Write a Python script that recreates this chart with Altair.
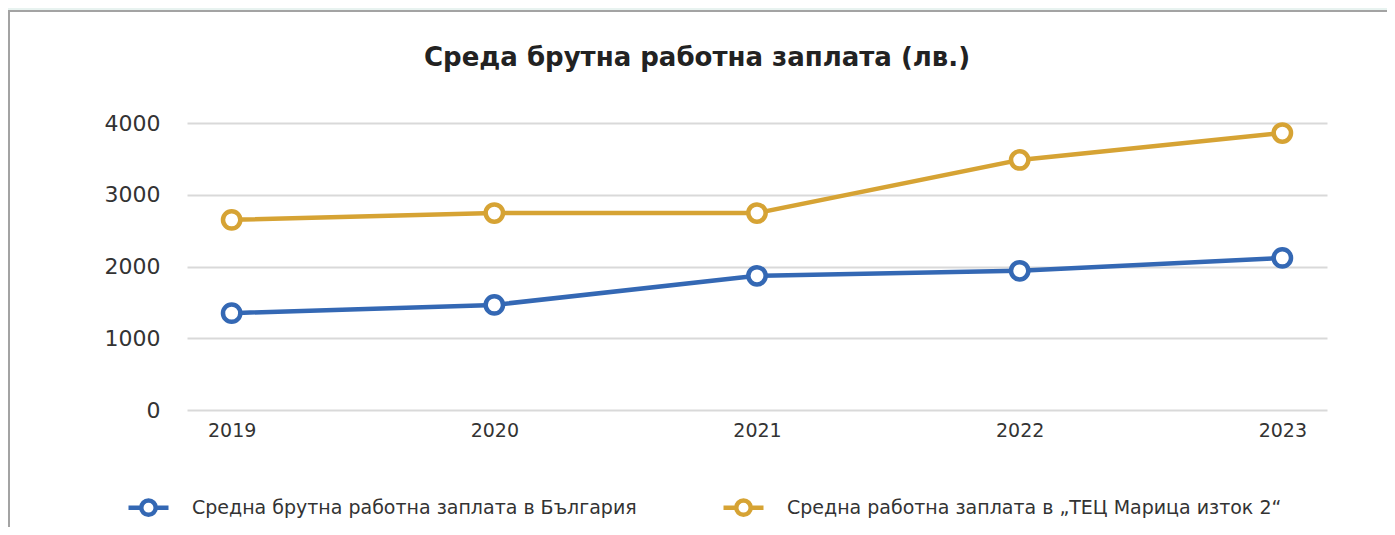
import altair as alt
import pandas as pd

years = ["2019", "2020", "2021", "2022", "2023"]
series_names = [
    "Средна брутна работна заплата в България",
    "Средна работна заплата в „ТЕЦ Марица изток 2“",
]
bulgaria = [1350, 1465, 1870, 1940, 2120]
tec = [2650, 2745, 2745, 3485, 3860]
colors = ["#3468b4", "#d6a334"]
title_text = "Среда брутна работна заплата (лв.)"
y_ticks = [0, 1000, 2000, 3000, 4000]

rows = []
for name, vals in zip(series_names, [bulgaria, tec]):
    for y, v in zip(years, vals):
        rows.append({"year": y, "value": v, "series": name})
df = pd.DataFrame(rows)

FONT = "DejaVu Sans"
TXT = "#333333"

legend_path = ("M-1,0L-0.36,0M0.36,0L1,0"
               "M0.36,0A0.36,0.36,0,1,1,-0.36,0A0.36,0.36,0,1,1,0.36,0Z")

color = alt.Color(
    "series:N",
    scale=alt.Scale(domain=series_names, range=colors),
    sort=series_names,
    legend=alt.Legend(
        title=None,
        orient="none",
        direction="horizontal",
        legendX=-61,
        legendY=362,
        padding=0,
        symbolType=legend_path,
        symbolSize=1600,
        symbolStrokeWidth=4.5,
        symbolFillColor="white",
        labelFont=FONT,
        labelFontSize=19,
        labelColor=TXT,
        labelOffset=21,
        labelLimit=800,
        columnPadding=77,
    ),
)

x = alt.X(
    "year:O",
    sort=years,
    scale=alt.Scale(type="point", padding=0.17),
    axis=alt.Axis(title=None, labelAngle=0, domain=False, ticks=False, grid=False,
                  labelPadding=11, labelFont=FONT, labelFontSize=19, labelColor=TXT),
)
y = alt.Y(
    "value:Q",
    scale=alt.Scale(domain=[0, 4000], nice=False),
    axis=alt.Axis(title=None, values=y_ticks, format="d", domain=False, ticks=False,
                  grid=True, gridColor="#d9d9d9", gridWidth=2, labelPadding=27,
                  labelFont=FONT, labelFontSize=22, labelColor=TXT),
)

base = alt.Chart(df)
lines = base.mark_line(strokeWidth=4.5).encode(x=x, y=y, color=color)
points = base.mark_point(filled=False, fill="white", fillOpacity=1, size=300,
                         strokeWidth=4.5, opacity=1).encode(x=x, y=y, color=color)

one = alt.Data(values=[{"t": title_text}])
strip = alt.Chart(one).mark_rect(color="#e8f3f0").encode(
    x=alt.value(-179), x2=alt.value(1200), y=alt.value(-115), y2=alt.value(-113))
topline = alt.Chart(one).mark_rule(color="#a3a3a3", strokeWidth=2).encode(
    x=alt.value(-179), x2=alt.value(1200), y=alt.value(-112))
leftline = alt.Chart(one).mark_rule(color="#a3a3a3", strokeWidth=2).encode(
    x=alt.value(-178), y=alt.value(-113), y2=alt.value(404))
title = alt.Chart(one).mark_text(
    font=FONT, fontSize=26, fontWeight="bold", color="#222222",
    align="center", baseline="alphabetic",
).encode(text="t:N", x=alt.value(510), y=alt.value(-57))

chart = alt.layer(strip, topline, leftline, title, lines, points).properties(
    width=1140,
    height=287,
    padding={"left": 179, "top": 115, "right": 60, "bottom": 117},
    autosize=alt.AutoSizeParams(type="none"),
    background="white",
).configure_view(stroke=None)

chart.save("out.html", embed_options={"renderer": "svg", "actions": False})
